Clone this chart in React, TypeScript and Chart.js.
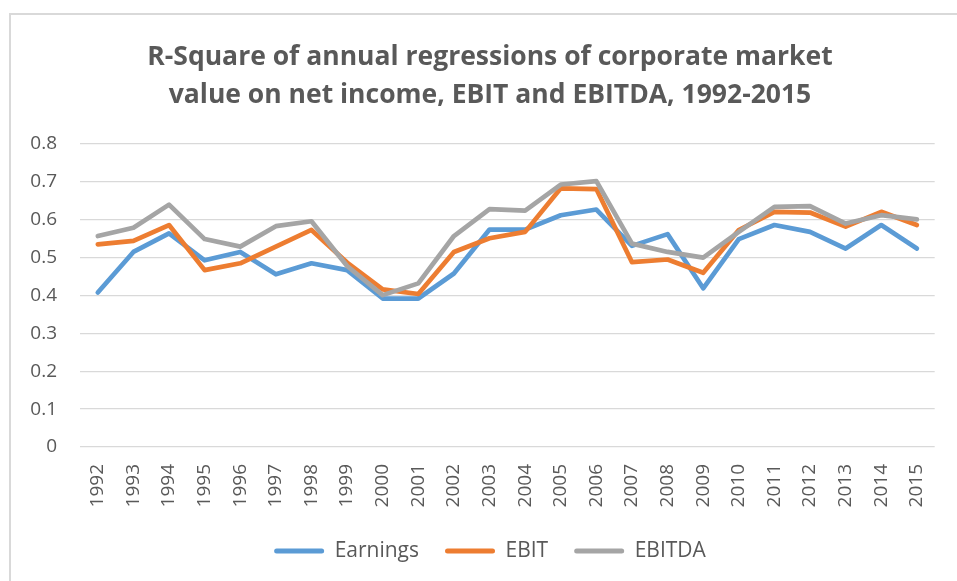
import React, { useEffect, useRef } from 'react';
import { Chart, registerables } from 'chart.js';

Chart.register(...registerables);

const years = ['1992','1993','1994','1995','1996','1997','1998','1999','2000','2001','2002','2003','2004','2005','2006','2007','2008','2009','2010','2011','2012','2013','2014','2015'];
const earnings = [0.408,0.515,0.564,0.493,0.515,0.456,0.485,0.467,0.392,0.392,0.458,0.574,0.574,0.612,0.627,0.531,0.562,0.419,0.549,0.586,0.568,0.524,0.586,0.524];
const ebit = [0.535,0.544,0.586,0.467,0.485,0.529,0.573,0.487,0.416,0.404,0.515,0.551,0.568,0.683,0.681,0.488,0.495,0.460,0.573,0.621,0.619,0.582,0.621,0.586];
const ebitda = [0.557,0.579,0.640,0.549,0.529,0.583,0.596,0.478,0.401,0.432,0.557,0.628,0.624,0.693,0.702,0.537,0.515,0.500,0.568,0.634,0.636,0.590,0.612,0.601];
const seriesNames = ['Earnings', 'EBIT', 'EBITDA'];
const titleLines = ['R-Square of annual regressions of corporate market', 'value on net income, EBIT and EBITDA, 1992-2015'];
const yMin = 0;
const yMax = 0.8;
const yStep = 0.1;

const colors = ['#5b9bd5', '#ed7d31', '#a5a5a5'];
const textColor = '#595959';

export default function App() {
  const ref = useRef<HTMLCanvasElement>(null);

  useEffect(() => {
    if (!ref.current) return;
    const series = [earnings, ebit, ebitda];
    const chart = new Chart(ref.current, {
      type: 'line',
      data: {
        labels: years,
        datasets: series.map((d, i) => ({
          label: seriesNames[i],
          data: d,
          borderColor: colors[i],
          backgroundColor: colors[i],
          borderWidth: 4.7,
          borderCapStyle: 'round',
          borderJoinStyle: 'round',
          pointRadius: 0,
          pointHoverRadius: 0,
          tension: 0,
          fill: false,
          order: series.length - 1 - i,
        })),
      },
      options: {
        responsive: false,
        animation: false,
        devicePixelRatio: 1,
        layout: { padding: { left: 39, right: 16, top: 0, bottom: 9.5 } },
        plugins: {
          title: {
            display: true,
            text: titleLines,
            color: textColor,
            font: { family: 'Open Sans', size: 26.5, weight: 'bold', lineHeight: 38 / 26.5 },
            padding: { top: 38, bottom: 30 },
          },
          legend: {
            position: 'bottom',
            labels: {
              boxWidth: 50,
              boxHeight: 5,
              padding: 26,
              color: textColor,
              font: { family: 'Open Sans', size: 21 },
              useBorderRadius: true,
              borderRadius: 2.5,
              sort: (a: any, b: any) => a.datasetIndex - b.datasetIndex,
              generateLabels: (c: any) =>
                Chart.defaults.plugins.legend.labels
                  .generateLabels(c)
                  .map((l: any) => ({ ...l, lineWidth: 0, fillStyle: l.strokeStyle })),
            },
          },
          tooltip: { enabled: false },
        },
        scales: {
          x: {
            offset: true,
            grid: { display: false, drawTicks: false },
            border: { display: false },
            ticks: {
              autoSkip: false,
              minRotation: 90,
              maxRotation: 90,
              padding: 17,
              color: textColor,
              font: { family: 'Open Sans', size: 19 },
            },
            afterFit: (s: any) => {
              s.height = 67.5;
            },
          },
          y: {
            min: yMin,
            max: yMax,
            ticks: {
              stepSize: yStep,
              padding: 23,
              color: textColor,
              font: { family: 'Open Sans', size: 19 },
            },
            grid: { color: '#d9d9d9', lineWidth: 1.3, drawTicks: false },
            border: { display: false },
            afterFit: (s: any) => {
              s.width = 41;
              s._computeLabelArea = () => undefined;
            },
          },
        },
      },
    } as any);
    return () => chart.destroy();
  }, []);

  return (
    <div style={{ position: 'absolute', left: 0, top: 0, width: 957, height: 581, background: '#fff', overflow: 'hidden' }}>
      <div
        style={{
          position: 'absolute',
          left: 9,
          top: 13,
          width: 980,
          height: 600,
          border: '2px solid #d9d9d9',
          boxSizing: 'border-box',
        }}
      />
      <canvas ref={ref} width={957} height={581} style={{ position: 'absolute', left: 0, top: 0 }} />
    </div>
  );
}
